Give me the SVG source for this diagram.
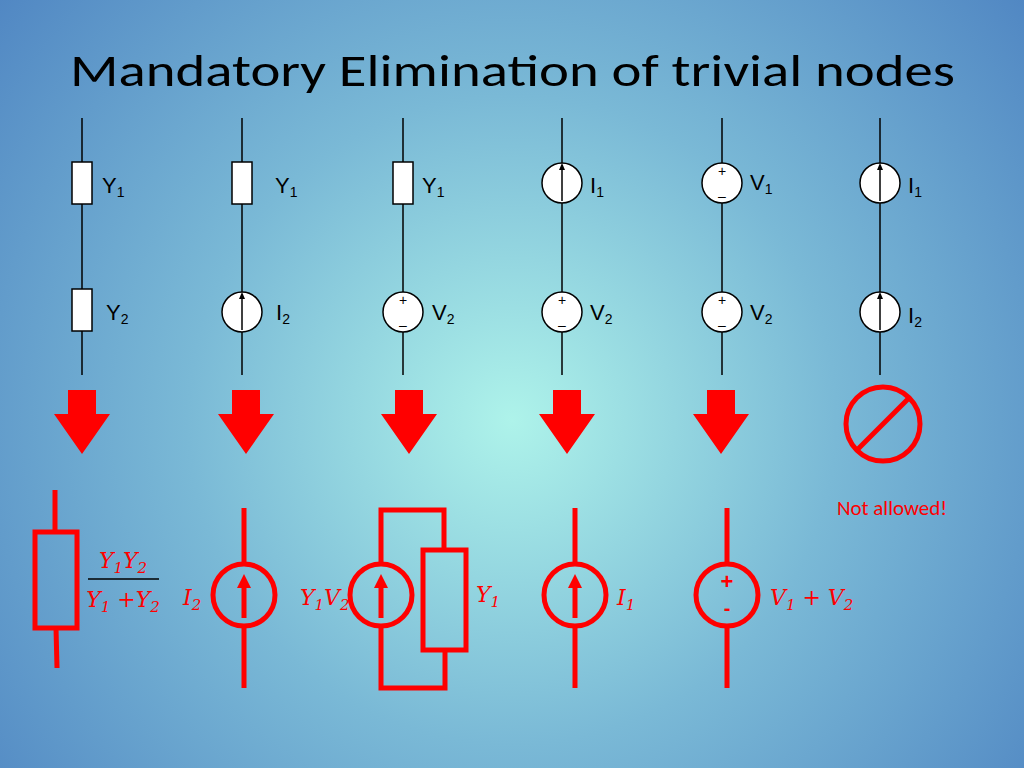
<svg xmlns="http://www.w3.org/2000/svg" width="1024" height="768" viewBox="0 0 1024 768">
<defs>
<radialGradient id="bg" cx="512" cy="420" r="720" gradientUnits="userSpaceOnUse">
<stop offset="0" stop-color="#aef3ea"/><stop offset="0.45" stop-color="#7ab9d6"/><stop offset="1" stop-color="#4a7fc0"/>
</radialGradient>
</defs>
<style>
.w{stroke:#000;stroke-width:1.5;fill:none}
.e{stroke:#000;stroke-width:1.5;fill:#fff}
.lb{font-family:"Liberation Sans",Arial,sans-serif;font-size:22px;fill:#000}
.sb{font-size:14px}
.pm{font-family:"Liberation Sans",sans-serif;font-size:14px;fill:#000;text-anchor:middle}
.r{stroke:#f00;stroke-width:5;fill:none}
.m{font-family:"Cambria Math","DejaVu Serif",serif;font-style:italic;font-size:22px;fill:#f00}
.ms{font-size:15px}
.big{fill:#f00}
</style>
<rect width="1024" height="768" fill="url(#bg)"/>
<text x="70" y="86" font-family="Calibri,Carlito,'Liberation Sans',sans-serif" font-size="46" fill="#000" textLength="885" lengthAdjust="spacingAndGlyphs">Mandatory Elimination of trivial nodes</text>

<g id="connectors">
<line class="w" x1="82" y1="118" x2="82" y2="375"/>
<line class="w" x1="242" y1="118" x2="242" y2="375"/>
<line class="w" x1="403" y1="118" x2="403" y2="375"/>
<line class="w" x1="562" y1="118" x2="562" y2="375"/>
<line class="w" x1="722" y1="118" x2="722" y2="375"/>
<line class="w" x1="880" y1="118" x2="880" y2="375"/>
</g>

<g id="c1">
<rect class="e" x="72" y="162" width="20" height="42"/><text class="lb" x="102" y="193">Y<tspan class="sb" dy="4">1</tspan></text>
<rect class="e" x="72" y="289" width="20" height="42"/><text class="lb" x="106" y="320">Y<tspan class="sb" dy="4">2</tspan></text>
</g>
<g id="c2">
<rect class="e" x="232" y="162" width="20" height="42"/><text class="lb" x="275" y="193">Y<tspan class="sb" dy="4">1</tspan></text>
<circle class="e" cx="242" cy="312" r="20"/><line class="w" x1="242" y1="330" x2="242" y2="297"/><path d="M239,299 L242,292 L245,299 Z"/><text class="lb" x="276" y="320">I<tspan class="sb" dy="4">2</tspan></text>
</g>
<g id="c3">
<rect class="e" x="393" y="162" width="20" height="42"/><text class="lb" x="422" y="193">Y<tspan class="sb" dy="4">1</tspan></text>
<circle class="e" cx="403" cy="312" r="20"/><text class="pm" x="403" y="305">+</text><text class="pm" x="403" y="330">–</text><text class="lb" x="432" y="320">V<tspan class="sb" dy="4">2</tspan></text>
</g>
<g id="c4">
<circle class="e" cx="562" cy="183" r="20"/><line class="w" x1="562" y1="201" x2="562" y2="168"/><path d="M559,170 L562,163 L565,170 Z"/><text class="lb" x="590" y="193">I<tspan class="sb" dy="4">1</tspan></text>
<circle class="e" cx="562" cy="312" r="20"/><text class="pm" x="562" y="305">+</text><text class="pm" x="562" y="330">–</text><text class="lb" x="590" y="320">V<tspan class="sb" dy="4">2</tspan></text>
</g>
<g id="c5">
<circle class="e" cx="722" cy="183" r="20"/><text class="pm" x="722" y="176">+</text><text class="pm" x="722" y="201">–</text><text class="lb" x="750" y="190">V<tspan class="sb" dy="4">1</tspan></text>
<circle class="e" cx="722" cy="312" r="20"/><text class="pm" x="722" y="305">+</text><text class="pm" x="722" y="330">–</text><text class="lb" x="750" y="320">V<tspan class="sb" dy="4">2</tspan></text>
</g>
<g id="c6">
<circle class="e" cx="880" cy="183" r="20"/><line class="w" x1="880" y1="201" x2="880" y2="168"/><path d="M877,170 L880,163 L883,170 Z"/><text class="lb" x="908" y="193">I<tspan class="sb" dy="4">1</tspan></text>
<circle class="e" cx="880" cy="312" r="20"/><line class="w" x1="880" y1="330" x2="880" y2="297"/><path d="M877,299 L880,292 L883,299 Z"/><text class="lb" x="908" y="323">I<tspan class="sb" dy="4">2</tspan></text>
</g>

<g id="arrows">
<path class="big" d="M68,390 h28 v24 h14 l-28,40 l-28,-40 h14 z"/>
<path class="big" d="M232,390 h28 v24 h14 l-28,40 l-28,-40 h14 z"/>
<path class="big" d="M395,390 h28 v24 h14 l-28,40 l-28,-40 h14 z"/>
<path class="big" d="M553,390 h28 v24 h14 l-28,40 l-28,-40 h14 z"/>
<path class="big" d="M707,390 h28 v24 h14 l-28,40 l-28,-40 h14 z"/>
</g>
<g id="forbidden">
<circle cx="883" cy="424" r="37" fill="none" stroke="#f00" stroke-width="5"/>
<line x1="857" y1="450" x2="909" y2="398" stroke="#f00" stroke-width="5"/>
<text x="892" y="515" font-family="Calibri,Carlito,'Liberation Sans',sans-serif" font-size="21" fill="#f00" text-anchor="middle">Not allowed!</text>
</g>

<g id="r1">
<line class="r" x1="55" y1="490" x2="55" y2="532"/>
<rect class="r" x="35" y="532" width="42" height="96"/>
<line class="r" x1="56" y1="628" x2="57" y2="668"/>
<text class="m" x="123" y="568" text-anchor="middle">Y<tspan class="ms" dy="5">1</tspan><tspan dy="-5">Y</tspan><tspan class="ms" dy="5">2</tspan></text>
<line x1="88" y1="579" x2="159" y2="579" stroke="#000" stroke-width="1.5"/>
<text class="m" x="123" y="607" text-anchor="middle">Y<tspan class="ms" dy="5">1</tspan><tspan dy="-5"> +Y</tspan><tspan class="ms" dy="5">2</tspan></text>
</g>
<g id="r2">
<line class="r" x1="244" y1="508" x2="244" y2="564"/><line class="r" x1="244" y1="626" x2="244" y2="688"/>
<circle class="r" cx="244" cy="595" r="31"/>
<line class="r" x1="244" y1="618" x2="244" y2="585"/><path d="M237,588 L244,574 L251,588 Z" fill="#f00"/>
<text class="m" x="183" y="605">I<tspan class="ms" dy="5">2</tspan></text>
</g>
<g id="r3">
<polyline class="r" points="381,564 381,510 444,510 444,550"/>
<polyline class="r" points="381,626 381,688 445,688 445,650"/>
<circle class="r" cx="381" cy="595" r="31"/>
<line class="r" x1="381" y1="618" x2="381" y2="585"/><path d="M374,588 L381,574 L388,588 Z" fill="#f00"/>
<rect class="r" x="423" y="550" width="43" height="100"/>
<text class="m" x="300" y="605">Y<tspan class="ms" dy="5">1</tspan><tspan dy="-5">V</tspan><tspan class="ms" dy="5">2</tspan></text>
<text class="m" x="476" y="602">Y<tspan class="ms" dy="5">1</tspan></text>
</g>
<g id="r4">
<line class="r" x1="575" y1="508" x2="575" y2="564"/><line class="r" x1="575" y1="626" x2="575" y2="688"/>
<circle class="r" cx="575" cy="595" r="31"/>
<line class="r" x1="575" y1="618" x2="575" y2="585"/><path d="M568,588 L575,574 L582,588 Z" fill="#f00"/>
<text class="m" x="617" y="605">I<tspan class="ms" dy="5">1</tspan></text>
</g>
<g id="r5">
<line class="r" x1="727" y1="508" x2="727" y2="564"/><line class="r" x1="727" y1="626" x2="727" y2="688"/>
<circle class="r" cx="727" cy="595" r="31"/>
<text x="727" y="589" font-family="'Liberation Sans',sans-serif" font-weight="bold" font-size="22" fill="#f00" text-anchor="middle">+</text>
<text x="727" y="615" font-family="'Liberation Sans',sans-serif" font-weight="bold" font-size="20" fill="#f00" text-anchor="middle">-</text>
<text class="m" x="770" y="605">V<tspan class="ms" dy="5">1</tspan><tspan dy="-5"> + V</tspan><tspan class="ms" dy="5">2</tspan></text>
</g>
</svg>
